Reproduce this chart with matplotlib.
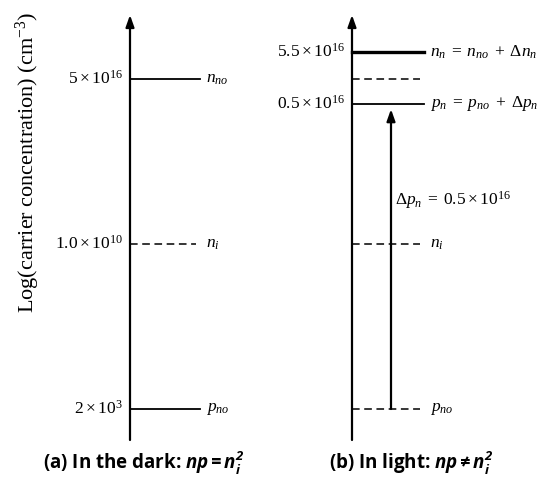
import numpy as np
import matplotlib
matplotlib.use("Agg")
import matplotlib.pyplot as plt
import matplotlib.transforms as mtransforms

plt.rcParams['mathtext.fontset'] = 'custom'
plt.rcParams['mathtext.rm'] = 'Liberation Serif'
plt.rcParams['mathtext.it'] = 'Liberation Serif:italic'
plt.rcParams['mathtext.sf'] = 'Open Sans:italic:bold'
plt.rcParams['font.family'] = ['Liberation Serif', 'DejaVu Sans']

# carrier levels (cm^-3)
dark_levels = [5e16, 1.0e10, 2e3]
dark_ticks = [r'$5\times10^{16}$', r'$1.0\times10^{10}$', r'$2\times10^{3}$']
dark_names = [r'$n_{no}$', r'$n_i$', r'$p_{no}$']
dark_styles = ['-', '--', '-']

light_levels = [5.5e16, 5e16, 0.5e16, 1.0e10, 2e3]
light_ticks = [r'$5.5\times10^{16}$', '', r'$0.5\times10^{16}$', '', '']
light_names = [r'$n_n\;=\;n_{no}\;+\;\Delta n_n$', '', r'$p_n\;=\;p_{no}\;+\;\Delta p_n$',
               r'$n_i$', r'$p_{no}$']
light_styles = ['-', '--', '-', '--', '--']
delta_p = 0.5e16

# vertical scale: pixels per decade on a log axis
px_decade = 24.63
ni_px = 244.0
H, W = 479, 544

fig = plt.figure(figsize=(W / 100, H / 100), dpi=100)
ax = fig.add_axes([0, 0, 1, 1])
ax.set_yscale('log')
ax.set_xlim(0, W)
ax.set_ylim(10 ** (10 - (H - ni_px) / px_decade), 10 ** (10 + ni_px / px_decade))
ax.axis('off')

# the n_n level is drawn lifted above n_no so the two are distinguishable
lifted = mtransforms.offset_copy(ax.transData, fig=fig, x=0, y=26, units='dots')

arrow_kw = dict(arrowstyle='-|>,head_length=0.7,head_width=0.25', lw=1.6, color='black',
                shrinkA=0, shrinkB=0)


def panel(x0, levels, ticks, names, styles, length):
    ax.annotate('', xy=(x0, 1 - 15 / H), xytext=(x0, 1 - 440 / H),
                xycoords=('data', 'axes fraction'), arrowprops=arrow_kw)
    for i, (lv, tk, nm, st) in enumerate(zip(levels, ticks, names, styles)):
        tr = lifted if (i == 0 and lv == 5.5e16) else ax.transData
        lw = 2.4 if tr is lifted else 1.3
        xe = x0 + length if st == '-' else x0 + length - 4
        if st == '--':
            ax.plot([x0, xe], [lv, lv], color='black', lw=1.1, dashes=(5, 3), transform=tr)
        else:
            ax.plot([x0, xe], [lv, lv], color='black', lw=lw, transform=tr)
        if tk:
            ax.text(x0 - 7, lv, tk, ha='right', va='center', fontsize=12.5, transform=tr)
        if nm:
            ax.text(x0 + length + 6, lv, nm, ha='left', va='center', fontsize=12.5,
                    transform=tr)


panel(130, dark_levels, dark_ticks, dark_names, dark_styles, 70)
panel(352, light_levels, light_ticks, light_names, light_styles, 72)

# excess hole arrow from p_no up to p_n
ax.annotate('', xy=(391, light_levels[2]), xytext=(391, light_levels[4]),
            arrowprops=dict(arrow_kw, shrinkB=4))
ax.text(395, 10 ** (10 + (244 - 200) / px_decade), r'$\Delta p_n\;=\;0.5\times10^{16}$',
        ha='left', va='center', fontsize=12.5)

ax.text(28, 1 - 162 / H, r'Log(carrier concentration) (cm$^{-3}$)', rotation=90,
        ha='center', va='center', fontsize=16, transform=ax.get_xaxis_transform())

cap_kw = dict(ha='center', va='center', fontsize=13.5, fontweight='bold',
              family=['Open Sans', 'DejaVu Sans'], transform=ax.get_xaxis_transform())
ax.text(144, 1 - 463 / H, r'(a) In the dark: $\mathsf{np = n_i^{2}}$', **cap_kw)
ax.text(411, 1 - 463 / H, r'(b) In light: $\mathsf{np \neq n_i^{2}}$', **cap_kw)

fig.savefig('out.png', dpi=100)
